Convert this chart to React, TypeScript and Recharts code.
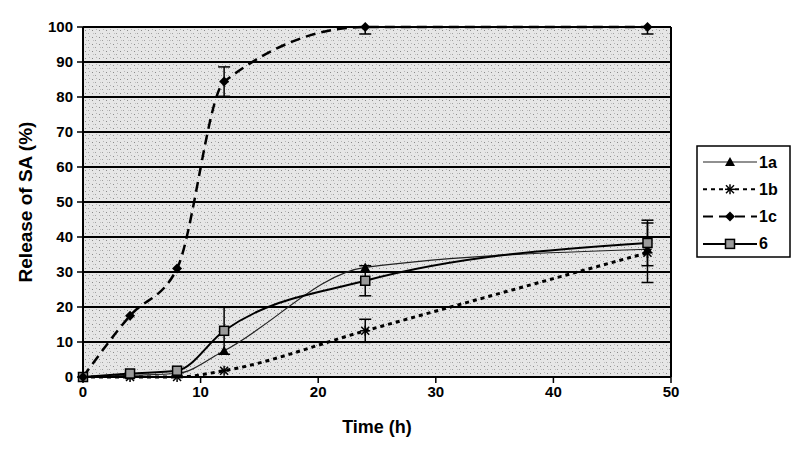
import { LineChart, Line, XAxis, YAxis, CartesianGrid, ErrorBar, ReferenceLine, Label } from 'recharts';

// Время отбора проб (ч)
const times = [0, 4, 8, 12, 24, 48];
// Высвобождение SA (%) для каждого образца
const release1a = [0, 0.5, 1, 7.5, 31.3, 36.5];
const release1b = [0, 0, 0, 1.8, 13.2, 35.5];
const release1c = [0, 17.5, 31, 84.4, 100, 100];
const release6 = [0, 1, 1.8, 13.2, 27.5, 38.3];
// Погрешности (null — без планки)
const err1b = [null, null, null, null, 3.3, 8.5];
const err1c = [null, null, null, 4.2, [2, 0], [2, 0]];
const err6 = [null, null, null, 6.7, 4.3, 6.5];

const xTicks = [0, 10, 20, 30, 40, 50];
const yTicks = [0, 10, 20, 30, 40, 50, 60, 70, 80, 90, 100];
const legendItems = ['1a', '1b', '1c', '6'];

const data = times.map((t, i) => ({
  time: t,
  s1a: release1a[i],
  s1b: release1b[i],
  s1c: release1c[i],
  s6: release6[i],
  e1b: err1b[i],
  e1c: err1c[i],
  e6: err6[i],
}));

const FONT = 'Arial, "Liberation Sans", sans-serif';
const tickStyle = { fill: '#000', fontSize: 15, fontWeight: 700, fontFamily: FONT };

function triangle(cx: number, cy: number, key?: any) {
  return <path key={key} d={`M${cx},${cy - 5} L${cx + 5},${cy + 4} L${cx - 5},${cy + 4} Z`} fill="#000" />;
}
function asterisk(cx: number, cy: number, key?: any) {
  return (
    <g key={key} stroke="#000" strokeWidth={1.5}>
      <line x1={cx - 5} y1={cy} x2={cx + 5} y2={cy} />
      <line x1={cx - 4} y1={cy - 4} x2={cx + 4} y2={cy + 4} />
      <line x1={cx - 4} y1={cy + 4} x2={cx + 4} y2={cy - 4} />
      <line x1={cx} y1={cy - 5} x2={cx} y2={cy + 5} />
    </g>
  );
}
function diamond(cx: number, cy: number, key?: any) {
  return <path key={key} d={`M${cx},${cy - 5} L${cx + 5},${cy} L${cx},${cy + 5} L${cx - 5},${cy} Z`} fill="#000" />;
}
function square(cx: number, cy: number, key?: any) {
  return <rect key={key} x={cx - 4.5} y={cy - 4.5} width={9} height={9} fill="#9a9a9a" stroke="#000" strokeWidth={1.5} />;
}

const markers: Record<string, (cx: number, cy: number, key?: any) => any> = {
  '1a': triangle,
  '1b': asterisk,
  '1c': diamond,
  '6': square,
};
const lineStyles: Record<string, { w: number; dash?: string; color: string }> = {
  '1a': { w: 1.2, color: '#222' },
  '1b': { w: 3, dash: '4 4', color: '#000' },
  '1c': { w: 2.5, dash: '10 6', color: '#000' },
  '6': { w: 2, color: '#000' },
};

function dotFor(name: string) {
  return (p: any) => markers[name](p.cx, p.cy, p.key ?? p.index);
}

function LegendBox() {
  return (
    <svg
      width={95}
      height={113}
      style={{ position: 'absolute', left: 696, top: 145 }}
    >
      <rect x={1} y={1} width={93} height={111} fill="#fff" stroke="#000" strokeWidth={1.5} />
      {legendItems.map((name, i) => {
        const y = 17 + i * 27.3;
        const st = lineStyles[name];
        return (
          <g key={name}>
            <line x1={7} y1={y} x2={61} y2={y} stroke={st.color} strokeWidth={Math.min(st.w, 2)} strokeDasharray={st.dash} />
            {markers[name](34, y)}
            <text x={63} y={y} dominantBaseline="central" fontSize={16} fontWeight={700} fontFamily={FONT}>
              {name}
            </text>
          </g>
        );
      })}
    </svg>
  );
}

export default function App() {
  return (
    <div style={{ position: 'absolute', left: 0, top: 0, width: 800, height: 450, background: '#fff', fontFamily: FONT }}>
      <LineChart width={800} height={450} data={data} margin={{ top: 27, right: 129, bottom: 0, left: 0 }}>
        <defs>
          <pattern id="stipple" width={7} height={7} patternUnits="userSpaceOnUse">
            <rect width={7} height={7} fill="#e6e6e6" />
            <rect x={1} y={2} width={1} height={1} fill="#8a8a8a" />
            <rect x={4} y={5} width={1} height={1} fill="#a0a0a0" />
            <rect x={5} y={1} width={1} height={1} fill="#b5b5b5" />
            <rect x={2} y={5} width={1} height={1} fill="#c0c0c0" />
          </pattern>
        </defs>
        <CartesianGrid vertical={false} stroke="#000" strokeWidth={2} fill="url(#stipple)" fillOpacity={1} />
        <XAxis
          type="number"
          dataKey="time"
          domain={[0, 50]}
          ticks={xTicks}
          height={73}
          tick={tickStyle}
          tickSize={6}
          tickMargin={3}
          axisLine={{ stroke: '#000', strokeWidth: 2 }}
          tickLine={{ stroke: '#000', strokeWidth: 1.5 }}
        >
          <Label
            content={() => (
              <text x={377} y={427} textAnchor="middle" dominantBaseline="central" fontSize={18} fontWeight={700} fontFamily={FONT}>
                Time (h)
              </text>
            )}
          />
        </XAxis>
        <YAxis
          type="number"
          domain={[0, 100]}
          ticks={yTicks}
          width={83}
          tick={tickStyle}
          tickSize={6}
          tickMargin={4}
          axisLine={{ stroke: '#000', strokeWidth: 2 }}
          tickLine={{ stroke: '#000', strokeWidth: 1.5 }}
        >
          <Label
            content={() => (
              <text
                x={25}
                y={202}
                transform="rotate(-90 25 202)"
                textAnchor="middle"
                dominantBaseline="central"
                fontSize={19}
                fontWeight={700}
                fontFamily={FONT}
              >
                Release of SA (%)
              </text>
            )}
          />
        </YAxis>
        <ReferenceLine x={50} stroke="#000" strokeWidth={2} />

        <Line type="monotone" dataKey="s1a" stroke={lineStyles['1a'].color} strokeWidth={lineStyles['1a'].w} dot={dotFor('1a')} isAnimationActive={false} />
        <Line type="monotone" dataKey="s1b" stroke="#000" strokeWidth={lineStyles['1b'].w} strokeDasharray={lineStyles['1b'].dash} dot={dotFor('1b')} isAnimationActive={false}>
          <ErrorBar dataKey="e1b" width={6} stroke="#000" strokeWidth={1.5} direction="y" />
        </Line>
        <Line type="monotone" dataKey="s6" stroke="#000" strokeWidth={lineStyles['6'].w} dot={dotFor('6')} isAnimationActive={false}>
          <ErrorBar dataKey="e6" width={6} stroke="#000" strokeWidth={1.5} direction="y" />
        </Line>
        <Line type="monotone" dataKey="s1c" stroke="#000" strokeWidth={lineStyles['1c'].w} strokeDasharray={lineStyles['1c'].dash} dot={dotFor('1c')} isAnimationActive={false}>
          <ErrorBar dataKey="e1c" width={6} stroke="#000" strokeWidth={1.5} direction="y" />
        </Line>
      </LineChart>
      <LegendBox />
    </div>
  );
}
